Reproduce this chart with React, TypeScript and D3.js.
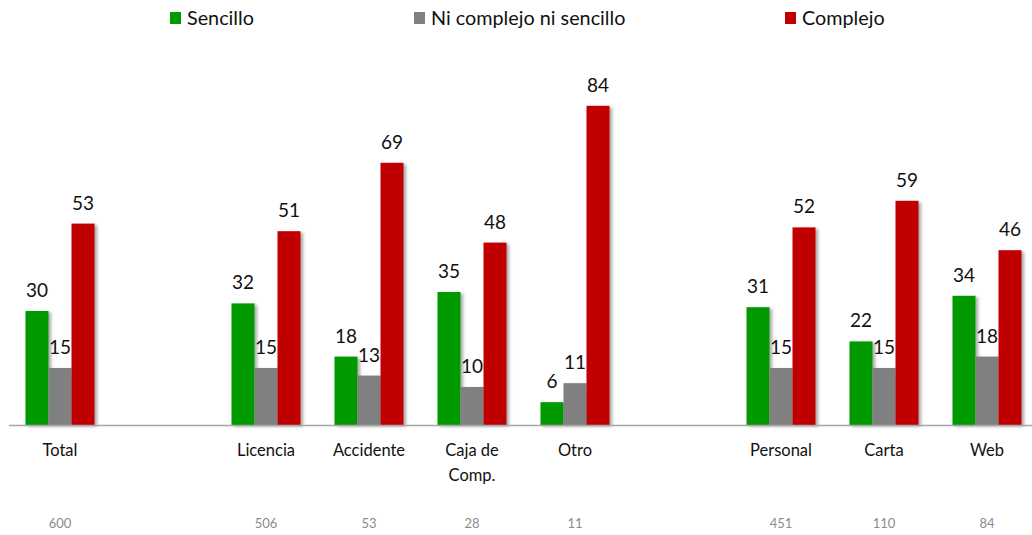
import React from "react";
import * as d3 from "d3";

const categories = ["Total", "", "Licencia", "Accidente", "Caja de\nComp.", "Otro", " ", "Personal", "Carta", "Web"];
const counts = ["600", "", "506", "53", "28", "11", "", "451", "110", "84"];
const series = ["Sencillo", "Ni complejo ni sencillo", "Complejo"];
const sencillo = [30, null, 32, 18, 35, 6, null, 31, 22, 34];
const ninguno = [15, null, 15, 13, 10, 11, null, 15, 15, 18];
const complejo = [53, null, 51, 69, 48, 84, null, 52, 59, 46];
const colors = ["#009900", "#808080", "#C00000"];

const W = 1032;
const H = 535;
const FONT = "Lato, 'Open Sans', sans-serif";

export default function App() {
  const x = d3.scaleBand<number>().domain(d3.range(categories.length)).range([8.5, 1038.5]).padding(0);
  const inner = d3.scaleBand<number>().domain([0, 1, 2]).range([0, x.bandwidth()]).paddingInner(0).paddingOuter(0.739);
  const y = d3.scaleLinear().domain([0, 100]).range([425, 45]);
  const data = [sencillo, ninguno, complejo];
  const legendX = [170, 414, 785];

  return (
    <svg width={W} height={H} style={{ position: "absolute", left: 0, top: 0, fontFamily: FONT }}>
      <defs>
        <filter id="sh" x="-30%" y="-10%" width="180%" height="130%">
          <feDropShadow dx="2.5" dy="1.5" stdDeviation="1.5" floodColor="#000" floodOpacity="0.35" />
        </filter>
      </defs>
      <rect width={W} height={H} fill="#fff" />
      {series.map((s, i) => (
        <g key={s}>
          <rect x={legendX[i]} y={12} width={11} height={12} fill={colors[i]} />
          <text x={legendX[i] + 17} y={18} dy="0.36em" fontSize={19.8} fill="#111">{s}</text>
        </g>
      ))}
      {data.map((vals, si) => (
        <g key={si}>
          {vals.map((v, ci) =>
            v == null ? null : (
              <g key={ci}>
                <rect
                  x={(x(ci) as number) + (inner(si) as number)}
                  y={y(v)}
                  width={inner.bandwidth()}
                  height={y(0) - y(v)}
                  fill={colors[si]}
                  filter="url(#sh)"
                />
                <text
                  x={(x(ci) as number) + (inner(si) as number) + inner.bandwidth() / 2}
                  y={y(v) - 14}
                  textAnchor="middle"
                  fontSize={19}
                  fill="#111"
                >
                  {v}
                </text>
              </g>
            )
          )}
        </g>
      ))}
      <line x1={9} x2={W} y1={425.5} y2={425.5} stroke="#a6a6a6" strokeWidth={1.3} />
      {categories.map((c, ci) => {
        const cx = (x(ci) as number) + x.bandwidth() / 2;
        return (
          <g key={ci}>
            {c.trim() === "" ? null : c.split("\n").map((line, li) => (
              <text key={li} x={cx} y={450 + li * 25.5} dy="0.36em" textAnchor="middle" fontSize={16.5} fill="#111">
                {line}
              </text>
            ))}
            <text x={cx} y={523} dy="0.36em" textAnchor="middle" fontSize={13} fill="#8c8c8c">
              {counts[ci]}
            </text>
          </g>
        );
      })}
    </svg>
  );
}
